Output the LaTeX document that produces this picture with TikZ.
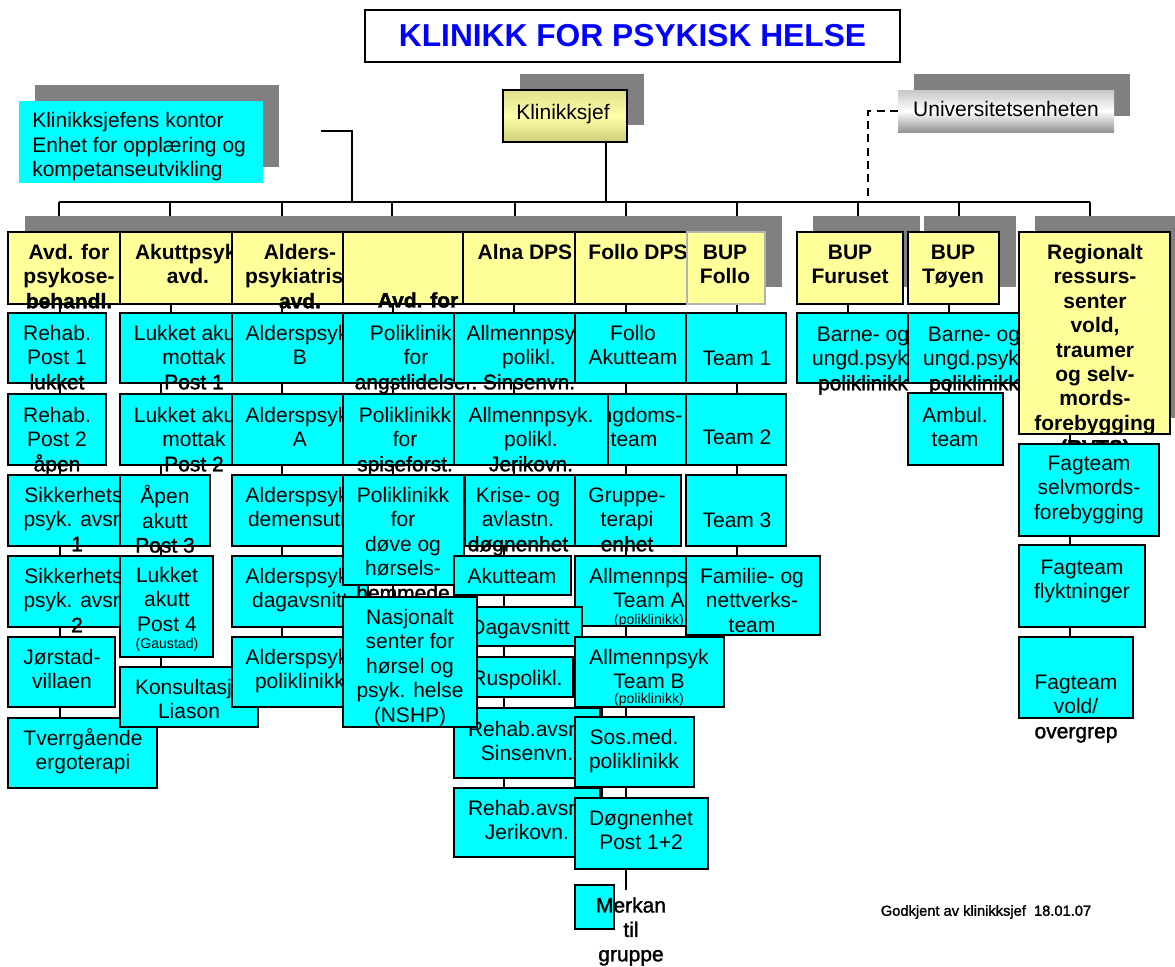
\documentclass[tikz,border=0pt]{standalone}
\usepackage{fontspec}
\setmainfont{Liberation Sans}
\newfontfamily\heavy{Liberation Sans}[FakeBold=1.5]
\usetikzlibrary{shadows}
\pgfdeclarelayer{background}
\pgfsetlayers{background,main}

\definecolor{unitcyan}{HTML}{00FFFF}
\definecolor{headyellow}{HTML}{FFFF99}
\definecolor{shadegray}{HTML}{808080}
\definecolor{titleblue}{HTML}{0000FF}

\newcommand\normtext{\fontsize{15.75}{18.3}\selectfont}
\newcommand\subtext{\fontsize{10.6}{12}\selectfont}
% a line that starts at the left edge of a text area #1 px wide
\newcommand\ovl[2]{\makebox[\dimexpr #1pt*3/4\relax][l]{#2}}

\tikzset{
  unitbox/.style={rectangle, draw=black, line width=1.5pt, fill=unitcyan,
    inner sep=0pt, outer sep=0pt, anchor=north west,
    general shadow={fill=black, shadow xshift=1pt, shadow yshift=-1pt}},
  headbox/.style={rectangle, draw=black, line width=1.6pt, fill=headyellow,
    inner sep=0pt, outer sep=0pt, anchor=north west},
  softhead/.style={headbox, draw=gray!60, line width=1pt},
  label/.style={anchor=north, inner sep=0pt, outer sep=0pt, align=center, font=\normtext},
  hlabel/.style={label, font=\normtext\bfseries},
  sublabel/.style={inner sep=0pt, outer sep=0pt, font=\subtext},
  link/.style={line width=2pt, draw=black},
}

% box from (x1,y1) to (x2,y2) in pixel units
\newcommand\mkbox[6][unitbox]{\node[#1, minimum width={(#5-#3)*0.75pt}, minimum height={(#6-#4)*0.75pt}] (#2) at (#3,#4) {};}
% text block whose first line is centred on (x,y)
\newcommand\mktext[5][label]{\node[#1] (#2) at (#3,{#4-9.6}) {\strut #5};}

\begin{document}
\begin{tikzpicture}[x=0.75pt, y=-0.75pt]
\useasboundingbox (0,0) rectangle (1175,967);

% title
\node[rectangle, draw=black, line width=2.2pt, fill=white, inner sep=0pt,
  minimum width={535*0.75pt}, minimum height={52*0.75pt},
  font=\fontsize{23.8}{28}\selectfont\bfseries, text=titleblue] (title) at (632.5,36) {KLINIKK FOR PSYKISK HELSE};

% office of the clinic head
\fill[shadegray] (35,85) rectangle (279,167);
\mkbox[rectangle, fill=unitcyan, inner sep=0pt, outer sep=0pt, anchor=north west]{kontor}{19}{101}{263}{183}
\node[anchor=north west, inner sep=0pt, align=left, font=\normtext] (kontor-t) at (32,110.4)
  {\strut Klinikksjefens kontor\\Enhet for opplæring og\\kompetanseutvikling};

% clinic head
\fill[shadegray] (520,74) rectangle (644,125);
\mkbox[rectangle, draw=black, line width=1.8pt, inner sep=0pt, outer sep=0pt, anchor=north west,
  top color={rgb,255:red,222;green,222;blue,140},
  bottom color={rgb,255:red,205;green,205;blue,120},
  middle color={rgb,255:red,255;green,255;blue,170},
  general shadow={fill=black, shadow xshift=1pt, shadow yshift=-1pt}]{kjef}{503}{90}{627}{142}
\mktext{kjef-t}{563}{112}{Klinikksjef}

% university unit
\fill[shadegray] (914,74) rectangle (1130,116);
\mkbox[rectangle, inner sep=0pt, outer sep=0pt, anchor=north west,
  top color=gray!45, bottom color=gray!85, middle color=white]{univ}{898}{90}{1114}{132}
\mktext{univ-t}{1006}{109}{Universitetsenheten}

% shadows of the department row
\fill[shadegray] (25,216) rectangle (782,287);
\fill[shadegray] (813,216) rectangle (920,287);
\fill[shadegray] (924,216) rectangle (1016,287);
\fill[shadegray] (1035,216) rectangle (1186,418);

% departments
\mkbox[headbox]{h1}{8}{232}{120}{304}
\mktext[hlabel]{h1-t}{69}{252}{Avd. for\\psykose-\\{\heavy behandl.}}
\mkbox[headbox]{h2}{120}{232}{232}{304}
\mktext[hlabel]{h2-t}{188}{252}{\ovl{106}{Akuttpsykiatrisk}\\avd.}
\mkbox[headbox]{h3}{232}{232}{343}{304}
\mktext[hlabel]{h3-t}{300}{252}{Alders-\\psykiatrisk\\{\heavy avd.}}
\mkbox[headbox]{h4}{343}{232}{463}{304}
\mktext[hlabel]{h4-t}{418}{300}{{\heavy Avd. for}}
\mkbox[headbox]{h5}{463}{232}{575}{304}
\mktext[hlabel]{h5-t}{525}{252}{Alna DPS}
\mkbox[headbox]{h6}{575}{232}{687}{304}
\mktext[hlabel]{h6-t}{638}{252}{Follo DPS}
\mkbox[softhead]{h7}{687}{232}{765}{304}
\mktext[hlabel]{h7-t}{725}{252}{BUP\\Follo}
\mkbox[headbox]{hfur}{797}{232}{903}{304}
\mktext[hlabel]{hfur-t}{850}{252}{BUP\\Furuset}
\mkbox[headbox]{htoy}{908}{232}{999}{304}
\mktext[hlabel]{htoy-t}{953}{252}{BUP\\Tøyen}

% psychosis treatment
\mkbox{c1a}{8}{313}{106}{383}
\mktext{c1a-t}{57}{333}{Rehab.\\Post 1\\{\heavy lukket}}
\mkbox{c1b}{8}{394}{106}{465}
\mktext{c1b-t}{57}{415}{Rehab.\\Post 2\\{\heavy åpen}}
\mkbox{c1c}{8}{475}{146}{546}
\mktext{c1c-t}{77}{495}{Sikkerhets-\\psyk. avsn.\\{\heavy 1}}
\mkbox{c1d}{8}{556}{146}{627}
\mktext{c1d-t}{77}{576}{Sikkerhets-\\psyk. avsn.\\{\heavy 2}}
\mkbox{c1e}{8}{637}{115}{707}
\mktext{c1e-t}{62}{657}{Jørstad-\\villaen}
\mkbox{c1f}{8}{718}{157}{788}
\mktext{c1f-t}{83}{738}{Tverrgående\\ergoterapi}

% acute psychiatry
\mkbox{c2a}{120}{313}{268}{383}
\mktext{c2a-t}{194}{333}{Lukket akutt-\\mottak\\{\heavy Post 1}}
\mkbox{c2b}{120}{394}{268}{465}
\mktext{c2b-t}{194}{415}{Lukket akutt-\\mottak\\{\heavy Post 2}}
\mkbox{c2c}{120}{475}{210}{546}
\mktext{c2c-t}{165}{495}{Åpen\\akutt\\{\heavy Post 3}}
\mkbox{c2d}{120}{556}{213}{657}
\mktext{c2d-t}{167}{575}{Lukket\\akutt\\Post 4}
\node[sublabel] (c2d-s) at (167,645) {(Gaustad)};
\mkbox{c2e}{120}{667}{258}{727}
\mktext{c2e-t}{189}{687}{\ovl{108}{Konsultasjon/}\\Liason}

% old age psychiatry
\mkbox{c3a}{232}{313}{368}{383}
\mktext{c3a-t}{300}{333}{Alderspsyk.\\B}
\mkbox{c3b}{232}{394}{368}{465}
\mktext{c3b-t}{300}{415}{Alderspsyk.\\A}
\mkbox{c3c}{232}{475}{368}{546}
\mktext{c3c-t}{300}{495}{Alderspsyk.\\demensutr.}
\mkbox{c3d}{232}{556}{368}{627}
\mktext{c3d-t}{300}{576}{Alderspsyk.\\dagavsnitt}
\mkbox{c3e}{232}{637}{368}{707}
\mktext{c3e-t}{300}{657}{Alderspsyk.\\poliklinikk}

% outpatient clinics
\mkbox{c4a}{343}{313}{489}{383}
\mktext{c4a-t}{416}{333}{Poliklinikk\\for\\{\heavy angstlidelser.}}
\mkbox{c4b}{343}{394}{467}{465}
\mktext{c4b-t}{405}{415}{Poliklinikk\\for\\{\heavy spiseforst.}}
\mkbox{c4c}{343}{475}{464}{585}
\mktext{c4c-t}{403}{495}{Poliklinikk\\for\\døve og\\hørsels-\\{\heavy hemmede}}

% Alna and Follo DPS
\mkbox{c5a}{454}{313}{600}{383}
\mktext{c5a-t}{529}{333}{Allmennpsyk.\\polikl.\\{\heavy Sinsenvn.}}
\mkbox{c6a}{575}{313}{686}{383}
\mktext{c6a-t}{633}{333}{Follo\\Akutteam}
\mkbox{c6b}{575}{394}{686}{465}
\mktext{c6b-t}{634}{415}{Ungdoms-\\team}
\mkbox{c5b}{454}{394}{608}{465}
\mktext{c5b-t}{531}{415}{Allmennpsyk.\\polikl.\\{\heavy Jerikovn.}}
\mkbox{c5c}{465}{475}{575}{546}
\mktext{c5c-t}{518}{495}{Krise- og\\avlastn.\\{\heavy døgnenhet}}
\mkbox{c6c}{575}{475}{681}{546}
\mktext{c6c-t}{627}{495}{Gruppe-\\terapi\\{\heavy enhet}}
\mkbox{c5d}{454}{556}{571}{595}
\mktext{c5d-t}{512}{576}{Akutteam}
\mkbox{c6d}{575}{556}{724}{626}
\mktext{c6d-t}{649}{576}{Allmennpsyk\\Team A}
\node[sublabel] (c6d-s) at (649,621) {(poliklinikk)};
\mkbox{c5e}{454}{607}{582}{646}
\mktext{c5e-t}{520}{627}{Dagavsnitt}
\mkbox{c5f}{454}{657}{573}{697}
\mktext{c5f-t}{517}{678}{Ruspolikl.}
\mkbox{c5g}{454}{708}{600}{778}
\mktext{c5g-t}{527}{729}{Rehab.avsn.\\Sinsenvn.}
\mkbox{c4d}{343}{597}{477}{727}
\mktext{c4d-t}{410}{617}{Nasjonalt\\senter for\\hørsel og\\psyk. helse\\(NSHP)}
\mkbox{c5h}{454}{788}{600}{857}
\mktext{c5h-t}{527}{808}{Rehab.avsn.\\Jerikovn.}
\mkbox{c6e}{575}{637}{724}{707}
\mktext{c6e-t}{649}{657}{Allmennpsyk\\Team B}
\node[sublabel] (c6e-s) at (649,700) {(poliklinikk)};
\mkbox{c6f}{575}{717}{694}{787}
\mktext{c6f-t}{634}{737}{Sos.med.\\poliklinikk}
\mkbox{c6g}{575}{798}{708}{869}
\mktext{c6g-t}{641}{818}{Døgnenhet\\Post 1+2}
\mkbox{merk}{575}{885}{614}{929}
\mktext[label, font=\normtext\heavy]{merk-t}{631}{905}{Merkan\\til\\gruppe}

% BUP Follo
\mkbox{c7a}{686}{313}{786}{383}
\mktext{c7a-t}{737}{358}{Team 1}
\mkbox{c7b}{686}{394}{786}{465}
\mktext{c7b-t}{737}{437}{Team 2}
\mkbox{c7c}{686}{475}{786}{546}
\mktext{c7c-t}{737}{520}{Team 3}
\mkbox{c7d}{686}{556}{820}{635}
\mktext{c7d-t}{752}{576}{Familie- og\\nettverks-\\team}

% BUP Furuset and Tøyen
\mkbox{cfur}{797}{313}{929}{383}
\mktext{cfur-t}{863}{334}{Barne- og\\ungd.psyk.\\{\heavy poliklinikk}}
\mkbox{ctoy}{908}{313}{1040}{383}
\mktext{ctoy-t}{974}{334}{Barne- og\\ungd.psyk.\\{\heavy poliklinikk}}
\mkbox{cambul}{908}{393}{1003}{465}
\mktext{cambul-t}{955}{415}{Ambul.\\team}

% regional centre
\mkbox[headbox]{hreg}{1019}{232}{1170}{434}
\mktext[hlabel]{hreg-t}{1095}{252}{Regionalt\\ressurs-\\senter\\vold,\\traumer\\og selv-\\mords-\\forebygging\\{\heavy (RVTS)}}
\mkbox{f1}{1019}{444}{1159}{536}
\mktext{f1-t}{1089}{463}{Fagteam\\selvmords-\\forebygging}
\mkbox{f2}{1019}{545}{1145}{627}
\mktext{f2-t}{1082}{567}{Fagteam\\flyktninger}
\mkbox{f3}{1019}{637}{1133}{718}
\mktext{f3-t}{1076}{682}{Fagteam\\vold/\\{\heavy overgrep}}

% approval note
\node[inner sep=0pt, font=\fontsize{11}{13}\selectfont\heavy] (note) at (986,912) {Godkjent av klinikksjef~~18.01.07};

% connecting lines, behind all boxes
\begin{pgfonlayer}{background}
  \coordinate (busL) at (59,202);
  \coordinate (busR) at (1090,202);
  \coordinate (kjefbus) at (606,202);
  \coordinate (brk) at (321,131);
  \coordinate (brkbus) at (352,202);
  \coordinate (unibus) at (868,202);
  \draw[link] (busL) -- (busR);
  \draw[link] (kjef.south -| kjefbus) -- (kjefbus);
  \draw[link] (brk) -| (brkbus);
  \draw[link, dash pattern=on 6pt off 4pt] (univ.west) -| (unibus);
  \coordinate (d2) at (170,202);
  \coordinate (d3) at (282,202);
  \coordinate (d4) at (392,202);
  \coordinate (d5) at (515,202);
  \coordinate (d6) at (626,202);
  \coordinate (d7) at (737,202);
  \coordinate (d8) at (858,202);
  \coordinate (d9) at (959,202);
  \draw[link] (busL) -- (busL |- h1.north);
  \draw[link] (d2) -- (d2 |- h2.north);
  \draw[link] (d3) -- (d3 |- h3.north);
  \draw[link] (d4) -- (d4 |- h4.north);
  \draw[link] (d5) -- (d5 |- h5.north);
  \draw[link] (d6) -- (d6 |- h6.north);
  \draw[link] (d7) -- (d7 |- h7.north);
  \draw[link] (d8) -- (d8 |- hfur.north);
  \draw[link] (d9) -- (d9 |- htoy.north);
  \draw[link] (busR) -- (busR |- hreg.north);
  % column lines
  \coordinate (x1) at (60,0);
  \coordinate (x2a) at (171,0);
  \coordinate (x2b) at (161,0);
  \coordinate (x3) at (282,0);
  \coordinate (x4) at (393,0);
  \coordinate (x5a) at (514,0);
  \coordinate (x5b) at (504,0);
  \coordinate (x6) at (626,0);
  \coordinate (x6b) at (602,0);
  \coordinate (x7) at (737,0);
  \coordinate (x8) at (848,0);
  \coordinate (x9) at (949,0);
  \coordinate (x10) at (1070,0);
  \coordinate (m6) at (626,890);
  \draw[link] (x1 |- h1.south) -- (x1 |- c1f.north);
  \draw[link] (x2a |- h2.south) -- (x2a |- c2a.north);
  \draw[link] (x2b |- c2a.south) -- (x2b |- c2e.north);
  \draw[link] (x3 |- h3.south) -- (x3 |- c3e.north);
  \draw[link] (x4 |- h4.south) -- (x4 |- c4d.north);
  \draw[link] (x5a |- h5.south) -- (x5a |- c5c.north);
  \draw[link] (x5b |- c5c.south) -- (x5b |- c5h.north);
  \draw[link] (x6 |- h6.south) -- (m6);
  \draw[link] (x6b |- c6e.south) -- (x6b |- c6g.north);
  \draw[link] (x7 |- h7.south) -- (x7 |- c7d.north);
  \draw[link] (x8 |- hfur.south) -- (x8 |- cfur.north);
  \draw[link] (x9 |- htoy.south) -- (x9 |- cambul.north);
  \draw[link] (x10 |- hreg.south) -- (x10 |- f3.north);
\end{pgfonlayer}
\end{tikzpicture}
\end{document}
